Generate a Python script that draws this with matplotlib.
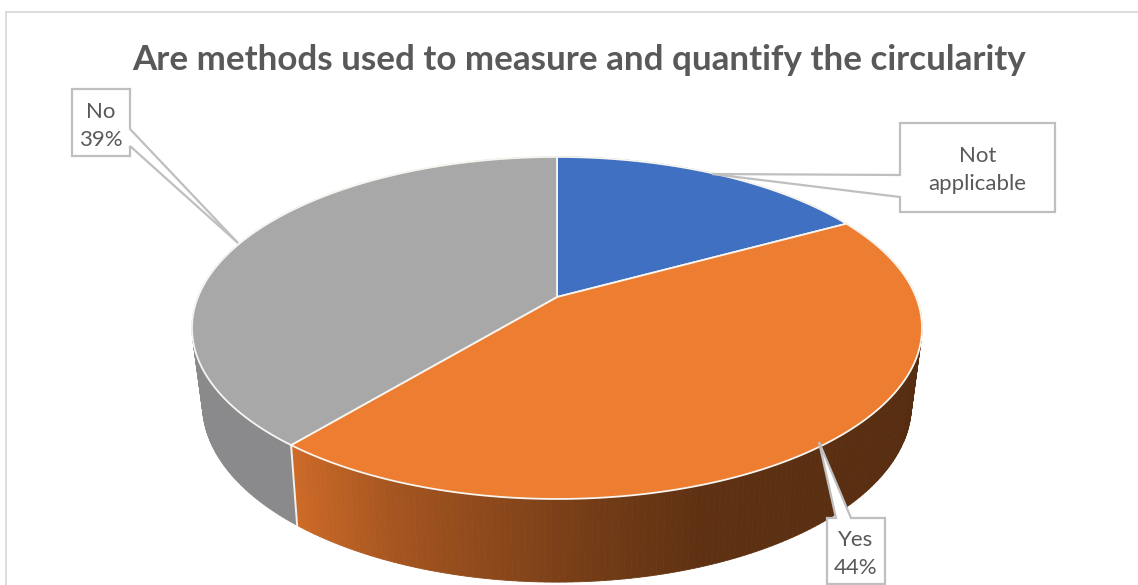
"""3D pie: are methods used to measure and quantify the circularity."""

import matplotlib
matplotlib.use("Agg")
import matplotlib.pyplot as plt
from matplotlib.collections import PolyCollection
from matplotlib.patches import Polygon, Rectangle
import numpy as np

TITLE = "Are methods used to measure and quantify the circularity"
categories = ["Not applicable", "Yes", "No"]
values = [17, 44, 39]
box_labels = ["Not\napplicable", "Yes\n44%", "No\n39%"]

top_colors = ["#3F70C2", "#ED7D31", "#A8A8A8"]
side_colors = ["#2A4A80", "#D8702A", "#8A8A8C"]
TEXT = "#595959"
LINE = "#BFBFBF"

# pixel geometry of the two discs: cx, cy, rx, ry, perspective
TOP = (557, 297, 359, 165.4, 0.181)
BOT = (557, 371, 348, 171, 0.19)

# darkening of the side wall, left to right
SHADE_X = [290, 400, 580, 700, 920]
SHADE_F = [0.97, 0.76, 0.55, 0.44, 0.40]


def disc(theta, geom):
    # theta is clockwise from 12 o'clock
    cx, cy, rx, ry, k = geom
    u, v = np.sin(theta), np.cos(theta)
    w = 1 + k * v
    return cx + rx * u / w, cy - ry * v / w


def callout(ax, pts, box, text):
    ax.add_patch(Polygon(pts, closed=True, facecolor="white", edgecolor=LINE,
                         linewidth=1.6, zorder=6, joinstyle="miter"))
    ax.text((box[0] + box[1]) / 2, (box[2] + box[3]) / 2 + 3, text, color=TEXT,
            fontsize=16, ha="center", va="center", linespacing=1.5, zorder=7)


plt.rcParams["font.family"] = ["Lato", "DejaVu Sans"]
fig = plt.figure(figsize=(11.38, 5.85), dpi=100, facecolor="white")
ax = fig.add_axes([0, 0, 1, 1])
ax.set_xlim(0, 1138)
ax.set_ylim(585, 0)
ax.axis("off")

# chart frame, cropped at the right and bottom of the picture
ax.add_patch(Rectangle((6.5, 12), 1200, 600, facecolor="white",
                       edgecolor="#D9D9D9", linewidth=1.3, zorder=0))

edges = np.cumsum([0] + values) / sum(values) * 2 * np.pi

# side wall first, the top disc hides everything at the back
for i in range(len(values)):
    t = np.linspace(edges[i], edges[i + 1], 180)
    xt, yt = disc(t, TOP)
    xb, yb = disc(t, BOT)
    quads = []
    cols = []
    base = np.array(matplotlib.colors.to_rgb(side_colors[i]))
    for j in range(len(t) - 1):
        quads.append([(xt[j], yt[j]), (xt[j + 1], yt[j + 1]),
                      (xb[j + 1], yb[j + 1]), (xb[j], yb[j])])
        if i == 1:
            cols.append(base * np.interp(xb[j], SHADE_X, SHADE_F))
        else:
            cols.append(base)
    ax.add_collection(PolyCollection(quads, facecolors=cols, edgecolors=cols,
                                     linewidths=0.6, zorder=2))

# white seams on the wall where slices meet
for e in edges[1:3]:
    xt, yt = disc(e, TOP)
    xb, yb = disc(e, BOT)
    if yb > yt and np.cos(e) < 0:
        ax.plot([xt, xb], [yt, yb], color="#F4F0EA", linewidth=1.4, zorder=3)

# top disc
for i in range(len(values)):
    t = np.linspace(edges[i], edges[i + 1], 240)
    xt, yt = disc(t, TOP)
    pts = np.column_stack([np.r_[TOP[0], xt], np.r_[TOP[1], yt]])
    ax.add_patch(Polygon(pts, closed=True, facecolor=top_colors[i],
                         edgecolor="#F7F5F0", linewidth=1.3, zorder=4,
                         joinstyle="round"))

ax.text(579.5, 59.5, TITLE, color=TEXT, fontsize=25.2, fontweight="bold",
        ha="center", va="center", zorder=7)

callout(ax, [(900, 123), (1055, 123), (1055, 212), (900, 212), (900, 197),
             (712, 174), (900, 175)], (900, 1055, 123, 212), box_labels[0])
callout(ax, [(827, 518), (836, 518), (819, 442), (851, 518), (885, 518),
             (885, 584), (827, 584)], (827, 885, 518, 584), box_labels[1])
callout(ax, [(72, 89), (130, 89), (130, 129), (238, 243), (130, 146),
             (130, 156), (72, 156)], (72, 130, 89, 156), box_labels[2])

fig.savefig("out.png", dpi=100, facecolor="white")
